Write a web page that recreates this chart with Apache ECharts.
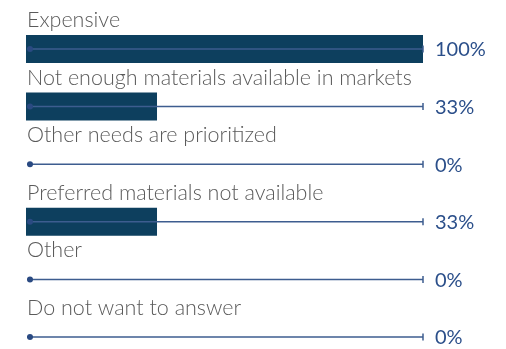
<!DOCTYPE html>
<html>
<head>
<meta charset="utf-8">
<script src="https://cdn.jsdelivr.net/npm/echarts@6/dist/echarts.min.js"></script>
<style>
  html, body { margin: 0; padding: 0; background: #fff; }
  #chart { width: 506px; height: 349px; }
</style>
</head>
<body>
<div id="chart"></div>
<script>
// Reasons given, share of respondents (%)
const categories = [
  'Expensive',
  'Not enough materials available in markets',
  'Other needs are prioritized',
  'Preferred materials not available',
  'Other',
  'Do not want to answer'
];
const values = [100, 33, 0, 33, 0, 0];
const valueLabels = ['100%', '33%', '0%', '33%', '0%', '0%'];
const scaleMax = 100;

const chart = echarts.init(document.getElementById('chart'), null, { renderer: 'canvas' });

const trackColor = '#3d5d8f';
const labelFont = 'Lato, "Open Sans", sans-serif';

chart.setOption({
  animation: false,
  grid: { left: 26, right: 83, top: 49, bottom: 12 },
  xAxis: {
    type: 'value', min: 0, max: scaleMax,
    show: false
  },
  yAxis: {
    type: 'category', data: categories, inverse: true,
    boundaryGap: false, show: false
  },
  series: [
    {
      type: 'bar',
      data: values,
      barWidth: 28,
      itemStyle: { color: '#0d3f5e' },
      z: 2
    },
    {
      // track line with start dot, end tick, category name and value text
      type: 'custom',
      z: 3,
      data: values.map((v, i) => [v, i]),
      renderItem: function (params, api) {
        const i = api.value(1);
        const start = api.coord([0, i]);
        const end = api.coord([scaleMax, i]);
        const y = start[1];
        return {
          type: 'group',
          children: [
            {
              type: 'line',
              shape: { x1: start[0] + 1, y1: y, x2: end[0], y2: y },
              style: { stroke: trackColor, lineWidth: 1.5 }
            },
            {
              type: 'circle',
              shape: { cx: start[0] + 4, cy: y, r: 3 },
              style: { fill: '#2a4a82' }
            },
            {
              type: 'line',
              shape: { x1: end[0], y1: y - 3.5, x2: end[0], y2: y + 3.5 },
              style: { stroke: trackColor, lineWidth: 1.5 }
            },
            {
              type: 'text',
              style: {
                x: start[0] + 1, y: y - 18,
                text: categories[i],
                fill: '#5a5a5a',
                font: '300 21.5px ' + labelFont,
                textAlign: 'left',
                textVerticalAlign: 'bottom'
              }
            },
            {
              type: 'text',
              style: {
                x: end[0] + 12, y: y + 1,
                text: valueLabels[i],
                fill: '#2b4f8a',
                font: '20px ' + labelFont,
                textAlign: 'left',
                textVerticalAlign: 'middle'
              }
            }
          ]
        };
      }
    }
  ]
});
</script>
</body>
</html>
